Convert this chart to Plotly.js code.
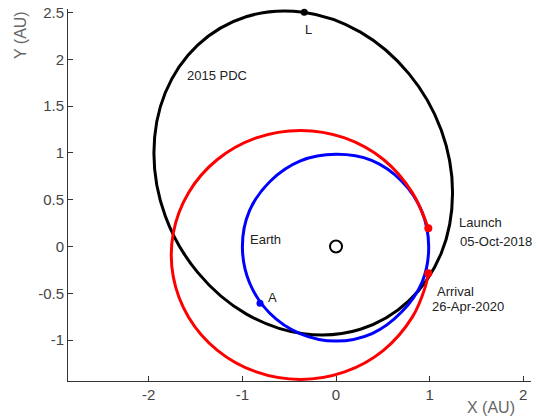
<!DOCTYPE html>
<html>
<head>
<meta charset="utf-8">
<script src="https://cdn.plot.ly/plotly-3.0.1.min.js"></script>
<style>html,body{margin:0;padding:0;background:#fff;}#chart{width:533px;height:418px;}</style>
</head>
<body>
<div id="chart"></div>
<script>
// 2015 PDC asteroid orbit (AU), read around the ellipse
var pdcX = [1.245,1.124,0.778,0.261,-0.350,-0.961,-1.478,-1.824,-1.945,-1.824,-1.478,-0.961,-0.350,0.261,0.778,1.124,1.245];
var pdcY = [0.570,1.244,1.847,2.290,2.502,2.454,2.151,1.642,1.000,0.326,-0.277,-0.720,-0.932,-0.884,-0.581,-0.072,0.570];
// Earth orbit
var earthX = [0.990,0.915,0.700,0.380,0.000,-0.380,-0.700,-0.925,-1.000,-0.925,-0.710,-0.385,0.000,0.385,0.700,0.920,0.990];
var earthY = [0.000,0.380,0.700,0.920,0.985,0.915,0.700,0.380,0.000,-0.385,-0.710,-0.930,-1.010,-0.930,-0.700,-0.380,0.000];
// Transfer trajectory (launch -> arrival)
var xferX = [0.986,0.815,0.507,0.092,-0.380,-0.852,-1.267,-1.575,-1.739,-1.739,-1.575,-1.267,-0.852,-0.380,0.092,0.507,0.815,0.953,0.986];
var xferY = [0.194,0.575,0.929,1.160,1.240,1.160,0.929,0.575,0.141,-0.321,-0.755,-1.109,-1.340,-1.420,-1.340,-1.109,-0.755,-0.434,-0.286];
// Event points
var launchPt = [0.986, 0.194];
var arrivalPt = [0.986, -0.286];
var lPt = [-0.339, 2.502];
var aPt = [-0.812, -0.607];
var sunPt = [0, 0];
var xTicks = [-2, -1, 0, 1, 2];
var yTicks = [-1, -0.5, 0, 0.5, 1, 1.5, 2, 2.5];

var F = "Liberation Sans, Arial, sans-serif";
var traces = [
  {x: pdcX, y: pdcY, mode: 'lines', line: {color: '#000', width: 3, shape: 'spline'}, cliponaxis: false},
  {x: earthX, y: earthY, mode: 'lines', line: {color: '#0000ff', width: 3, shape: 'spline'}, cliponaxis: false},
  {x: xferX, y: xferY, mode: 'lines', line: {color: '#ff0000', width: 3, shape: 'spline'}, cliponaxis: false},
  {x: [launchPt[0], arrivalPt[0]], y: [launchPt[1], arrivalPt[1]], mode: 'markers', marker: {color: '#ff0000', size: 8}, cliponaxis: false},
  {x: [lPt[0]], y: [lPt[1]], mode: 'markers', marker: {color: '#000', size: 7}, cliponaxis: false},
  {x: [aPt[0]], y: [aPt[1]], mode: 'markers', marker: {color: '#0000ff', size: 7}, cliponaxis: false},
  {x: [sunPt[0]], y: [sunPt[1]], mode: 'markers', marker: {color: 'rgba(0,0,0,0)', size: 12, line: {color: '#000', width: 2}}, cliponaxis: false}
];

function ann(text, x, y, anchor) {
  return {text: text, x: x, y: y, xref: 'x', yref: 'y', showarrow: false, xanchor: anchor || 'left', yanchor: 'middle', font: {family: F, size: 13, color: '#222'}};
}
var annotations = [
  ann('2015 PDC', -1.613, 1.822),
  ann('L', -0.299, 2.313, 'center'),
  ann('Earth', -0.935, 0.080),
  ann('A', -0.748, -0.550),
  ann('Launch', 1.293, 0.251),
  ann('05-Oct-2018', 1.303, 0.048),
  ann('Arrival', 1.058, -0.486),
  ann('26-Apr-2020', 1.004, -0.646),
  {text: 'X (AU)', xref: 'paper', yref: 'paper', x: 0.857, y: -0.070, xanchor: 'left', yanchor: 'middle', showarrow: false, font: {family: F, size: 16, color: '#666'}},
  {text: 'Y (AU)', xref: 'paper', yref: 'paper', x: -0.1037, y: 0.93, xanchor: 'center', yanchor: 'middle', textangle: -90, showarrow: false, font: {family: F, size: 16, color: '#666'}}
];

var axisCommon = {showgrid: false, zeroline: false, showline: true, linecolor: '#333', linewidth: 1, ticks: 'inside', ticklen: 5, tickcolor: '#333', tickfont: {family: F, size: 15, color: '#444'}, tickmode: 'array'};
var layout = {
  width: 533, height: 418,
  margin: {l: 68, r: 2, t: 9, b: 37},
  paper_bgcolor: '#fff', plot_bgcolor: '#fff',
  showlegend: false, hovermode: false,
  xaxis: Object.assign({}, axisCommon, {range: [-2.863, 2.083], tickvals: xTicks, ticktext: xTicks.map(String)}),
  yaxis: Object.assign({}, axisCommon, {range: [-1.437, 2.537], tickvals: yTicks, ticktext: yTicks.map(String)}),
  annotations: annotations
};
Plotly.newPlot('chart', traces, layout, {staticPlot: true, displayModeBar: false});
</script>
</body>
</html>
